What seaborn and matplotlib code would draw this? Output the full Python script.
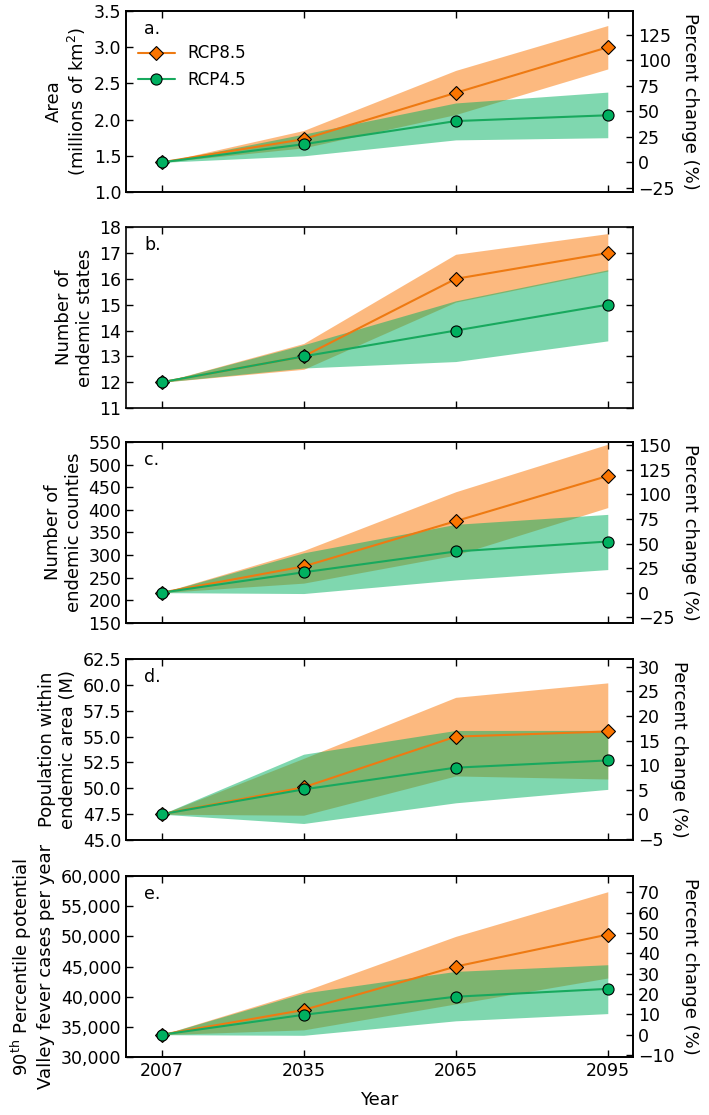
import numpy as np
import matplotlib
matplotlib.use("Agg")
import matplotlib.pyplot as plt
import seaborn as sns
from matplotlib.ticker import FuncFormatter

# years on the x axis
years = [2007, 2035, 2065, 2095]

# a. area (millions of km2)
area_85 = [1.41, 1.73, 2.37, 3.00]
area_85_lo = [1.41, 1.61, 2.07, 2.70]
area_85_hi = [1.41, 1.85, 2.68, 3.30]
area_45 = [1.41, 1.66, 1.98, 2.06]
area_45_lo = [1.41, 1.50, 1.72, 1.75]
area_45_hi = [1.41, 1.80, 2.23, 2.38]

# b. number of endemic states
states_85 = [12, 13, 16, 17]
states_85_lo = [12, 12.5, 15.1, 16.3]
states_85_hi = [12, 13.5, 16.95, 17.75]
states_45 = [12, 13, 14, 15]
states_45_lo = [12, 12.55, 12.8, 13.6]
states_45_hi = [12, 13.45, 15.15, 16.35]

# c. number of endemic counties
counties_85 = [217, 275, 375, 475]
counties_85_lo = [217, 238, 300, 405]
counties_85_hi = [217, 310, 440, 545]
counties_45 = [217, 262, 308, 330]
counties_45_lo = [217, 215, 245, 268]
counties_45_hi = [217, 305, 368, 390]

# d. population within endemic area (M)
pop_85 = [47.5, 50.1, 55.0, 55.5]
pop_85_lo = [47.5, 47.4, 51.2, 50.9]
pop_85_hi = [47.5, 52.9, 58.8, 60.2]
pop_45 = [47.5, 49.9, 52.0, 52.7]
pop_45_lo = [47.5, 46.6, 48.6, 49.9]
pop_45_hi = [47.5, 53.3, 55.6, 55.6]

# e. 90th percentile valley fever cases per year
cases_85 = [33700, 37800, 45000, 50300]
cases_85_lo = [33700, 34500, 38800, 43100]
cases_85_hi = [33700, 40900, 50000, 57400]
cases_45 = [33700, 37000, 40000, 41300]
cases_45_lo = [33700, 33600, 36000, 37200]
cases_45_hi = [33700, 40600, 44200, 45300]

sns.set_style("ticks", {"xtick.direction": "in", "ytick.direction": "in",
                        "text.color": "black", "axes.labelcolor": "black",
                        "xtick.color": "black", "ytick.color": "black"})
plt.rcParams["font.family"] = ["DejaVu Sans"]

ORANGE = "#fb7500"
ORANGE_LINE = "#ee7a12"
GREEN = "#00b060"
GREEN_LINE = "#18a95e"
TICK_FS = 12.5
LABEL_FS = 13

panels = [
    ("a.", (area_85, area_85_lo, area_85_hi), (area_45, area_45_lo, area_45_hi),
     "Area\n(millions of km$^2$)", (1.0, 3.5), np.arange(1.0, 3.51, 0.5), "{:.1f}",
     np.arange(-25, 126, 25)),
    ("b.", (states_85, states_85_lo, states_85_hi), (states_45, states_45_lo, states_45_hi),
     "Number of\nendemic states", (11, 18), np.arange(11, 19, 1), "{:.0f}", None),
    ("c.", (counties_85, counties_85_lo, counties_85_hi), (counties_45, counties_45_lo, counties_45_hi),
     "Number of\nendemic counties", (150, 550), np.arange(150, 551, 50), "{:.0f}",
     np.arange(-25, 151, 25)),
    ("d.", (pop_85, pop_85_lo, pop_85_hi), (pop_45, pop_45_lo, pop_45_hi),
     "Population within\nendemic area (M)", (45, 62.5), np.arange(45, 62.6, 2.5), "{:.1f}",
     np.arange(-5, 31, 5)),
    ("e.", (cases_85, cases_85_lo, cases_85_hi), (cases_45, cases_45_lo, cases_45_hi),
     "90$^{\\mathrm{th}}$ Percentile potential\nValley fever cases per year", (30000, 60000),
     np.arange(30000, 60001, 5000), "{:,.0f}", np.arange(-10, 71, 10)),
]

fig = plt.figure(figsize=(7.09, 11.15), dpi=100)
left, width, height = 0.178, 0.715, 0.1623
bottoms = [0.8278, 0.634, 0.4413, 0.2466, 0.0520]

for i, (tag, s85, s45, ylab, ylim, yt, fmt, pct_ticks) in enumerate(panels):
    ax = fig.add_axes([left, bottoms[i], width, height])
    ax.fill_between(years, s85[1], s85[2], color=ORANGE, alpha=0.5, linewidth=0)
    ax.fill_between(years, s45[1], s45[2], color=GREEN, alpha=0.5, linewidth=0)
    sns.lineplot(x=years, y=s85[0], ax=ax, color=ORANGE_LINE, marker="D", markersize=7.5,
                 markerfacecolor=ORANGE, markeredgecolor="black", markeredgewidth=0.8,
                 linewidth=1.5, label="RCP8.5", legend=(i == 0))
    sns.lineplot(x=years, y=s45[0], ax=ax, color=GREEN_LINE, marker="o", markersize=8,
                 markerfacecolor=GREEN, markeredgecolor="black", markeredgewidth=0.8,
                 linewidth=1.5, label="RCP4.5", legend=(i == 0))

    ax.set_xlim(2000, 2100)
    ax.set_ylim(*ylim)
    ax.set_xticks(years)
    ax.set_yticks(yt)
    ax.yaxis.set_major_formatter(FuncFormatter(lambda v, p, f=fmt: f.format(v)))
    ax.set_ylabel(ylab, fontsize=LABEL_FS)
    ax.tick_params(axis="both", labelsize=TICK_FS, direction="in", length=5, width=1,
                   top=True, right=(pct_ticks is None))
    for sp in ax.spines.values():
        sp.set_color("black")
        sp.set_linewidth(1.2)
    if i < len(panels) - 1:
        ax.set_xticklabels([])
        ax.set_xlabel("")
    else:
        ax.set_xticklabels([str(y) for y in years])
        ax.set_xlabel("Year", fontsize=LABEL_FS, labelpad=8)
    ax.text(0.035, 0.95, tag, transform=ax.transAxes, fontsize=TICK_FS, va="top", ha="left")

    if pct_ticks is not None:
        base = s85[0][0]
        ax2 = ax.twinx()
        ax2.set_ylim((ylim[0] - base) / base * 100, (ylim[1] - base) / base * 100)
        ax2.set_yticks(pct_ticks)
        ax2.tick_params(axis="y", labelsize=TICK_FS, direction="in", length=5, width=1)
        ax2.set_ylabel("Percent change (%)", fontsize=LABEL_FS, rotation=270, labelpad=18)
        for sp in ax2.spines.values():
            sp.set_color("black")
            sp.set_linewidth(1.2)

    if i == 0:
        ax.legend(loc="upper left", bbox_to_anchor=(0.0, 0.88), frameon=False,
                  fontsize=12, handlelength=2.2, borderaxespad=0.3)

fig.savefig("out.png", dpi=100)
